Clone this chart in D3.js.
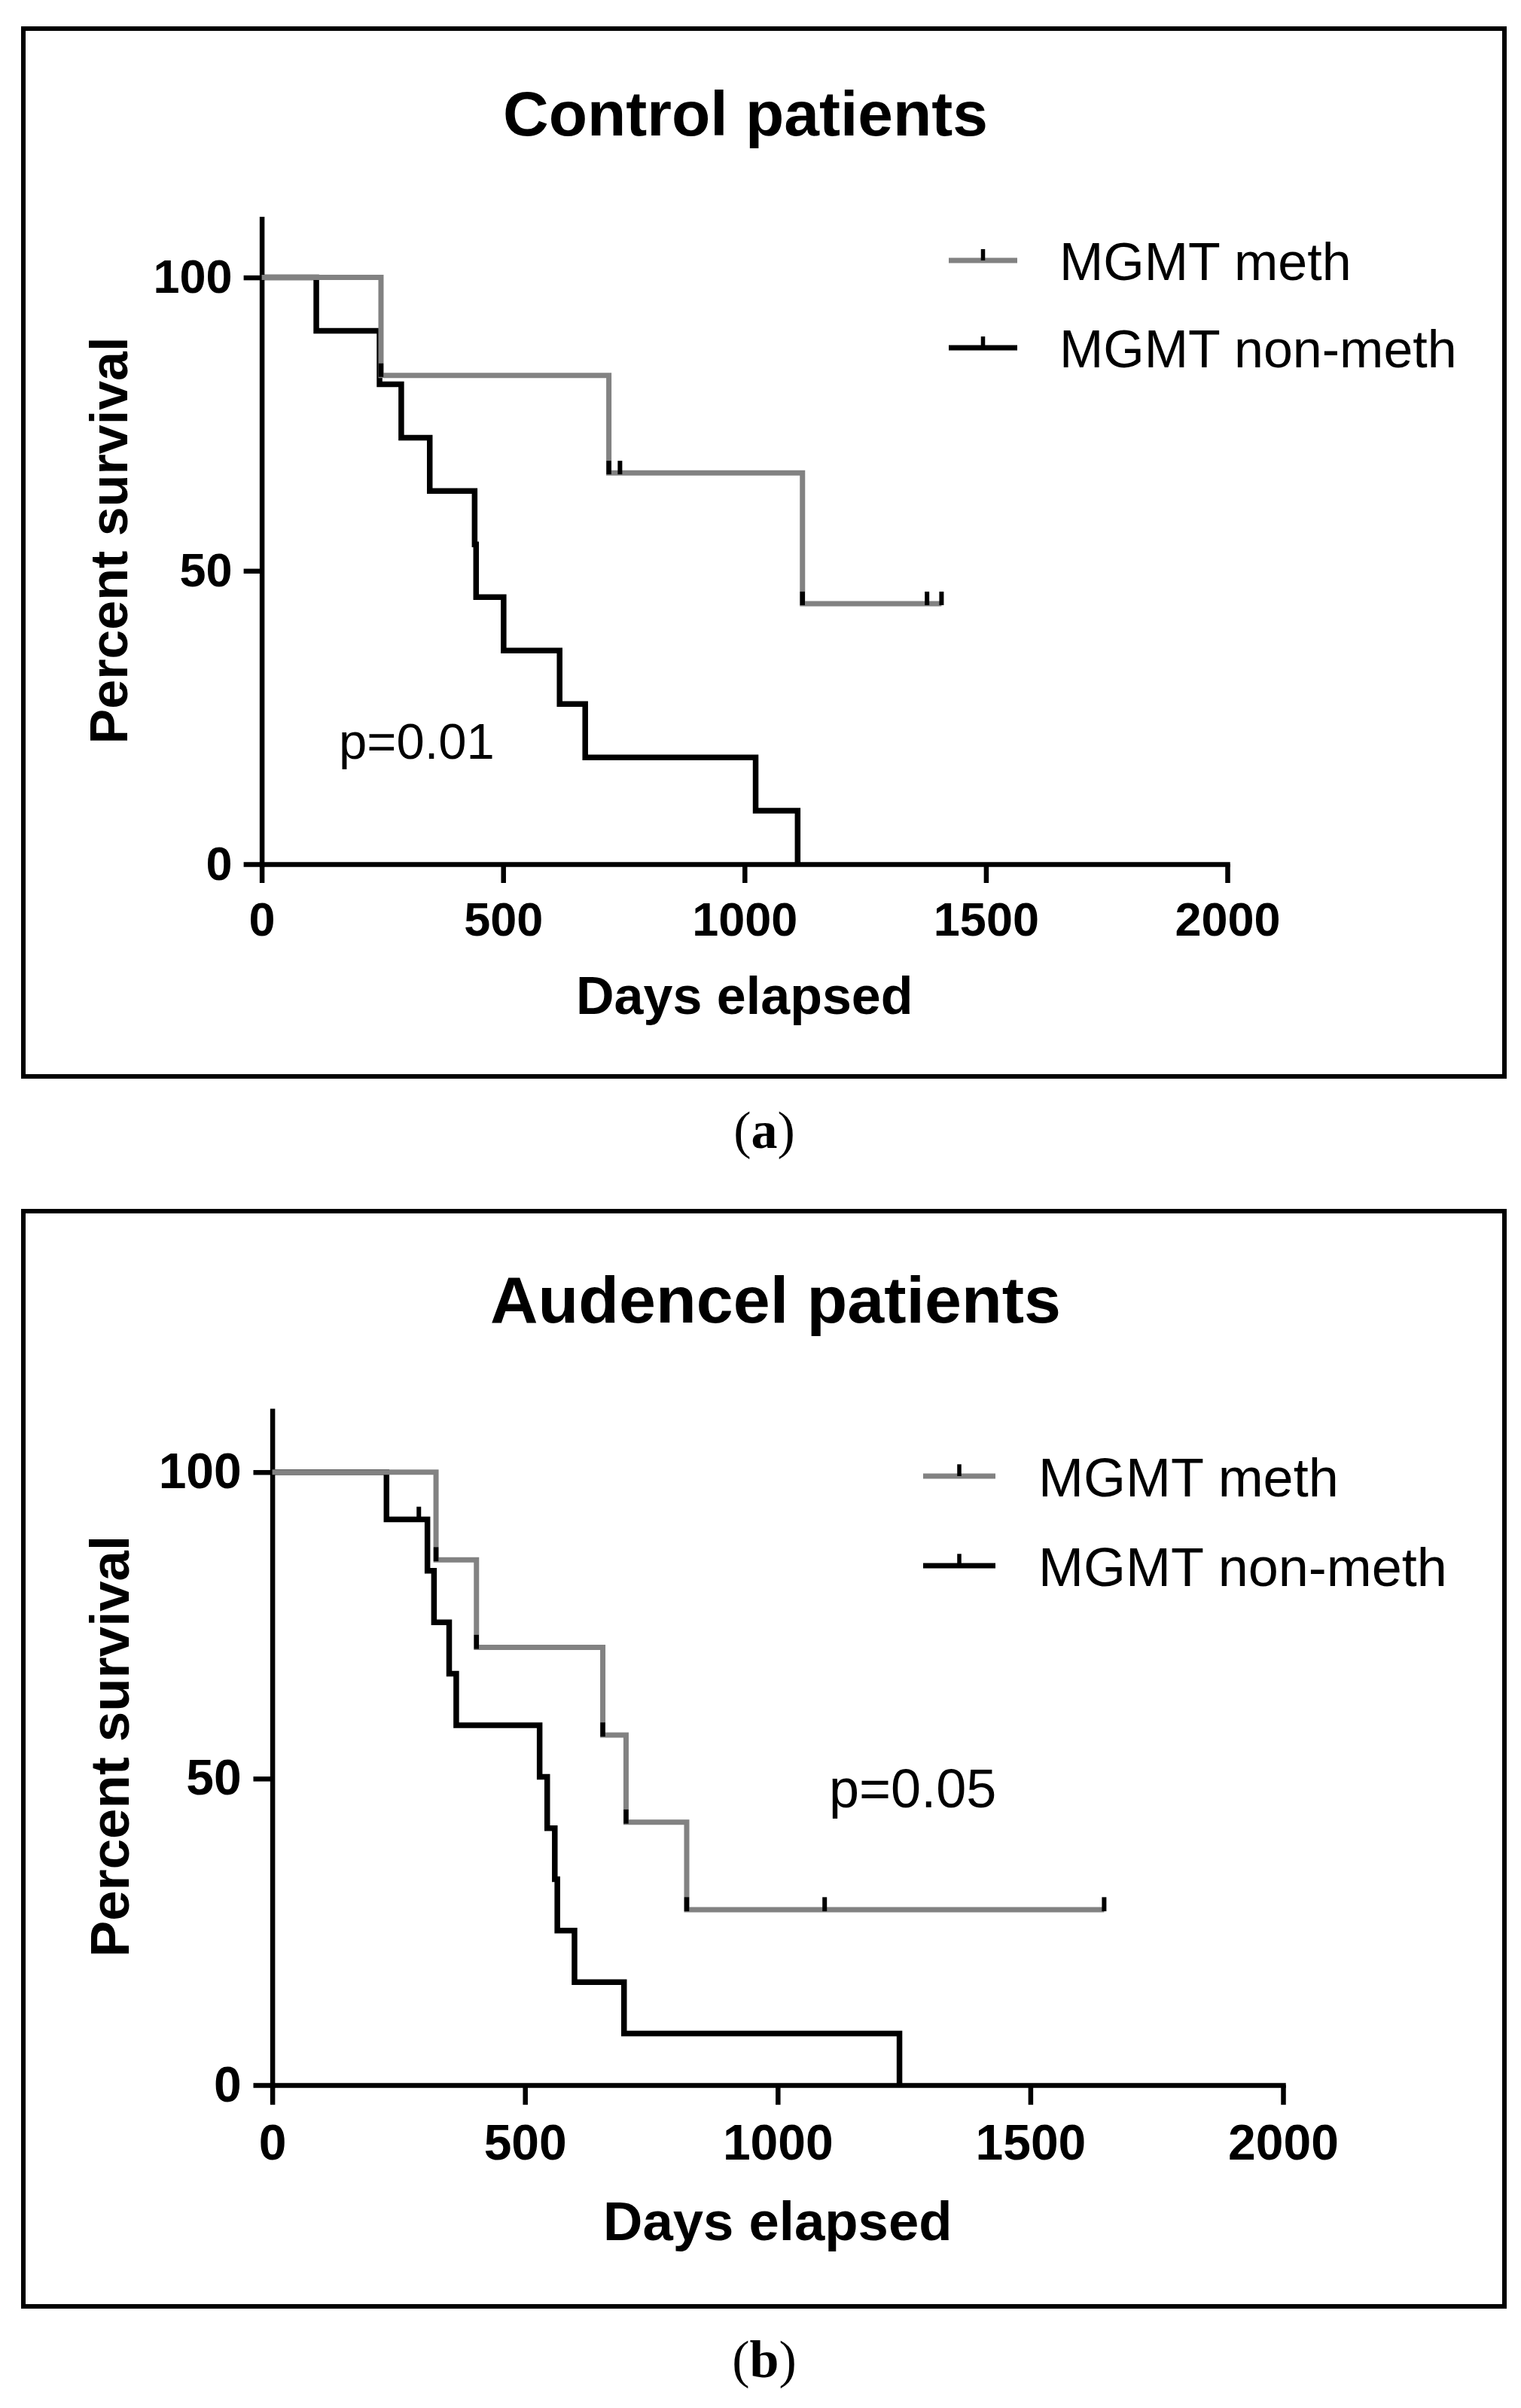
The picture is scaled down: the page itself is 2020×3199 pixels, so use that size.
<!DOCTYPE html>
<html>
<head>
<meta charset="utf-8">
<title>Survival by MGMT status</title>
<script src="https://d3js.org/d3.v7.min.js"></script>
<style>
  body { margin: 0; background: #fff; }
</style>
</head>
<body>
<div id="chart"></div>
<script>
// ---- data ----
// panel (a) control patients
var ctrlMethDays = [247, 719, 1120];
var ctrlMethSurv = [83.3, 66.7, 44.4];
var ctrlMethCensor = [742, 1378, 1408];
var ctrlNonDays = [113, 244, 289, 348, 441, 444, 501, 617, 670, 1023, 1110];
var ctrlNonSurv = [90.9, 81.8, 72.7, 63.6, 54.5, 45.5, 36.4, 27.3, 18.2, 9.1, 0];
var ctrlNonCensor = [];

// panel (b) Audencel patients
var audMethDays = [324, 404, 654, 700, 820];
var audMethSurv = [85.7, 71.4, 57.1, 42.9, 28.6];
var audMethCensor = [1093, 1646];
var audNonDays = [226, 307, 320, 350, 364, 529, 544, 559, 564, 598, 696, 1241];
var audNonSurv = [92.3, 83.9, 75.5, 67.1, 58.7, 50.3, 41.9, 33.6, 25.2, 16.8, 8.4, 0];
var audNonCensor = [290];

var xTicks = [0, 500, 1000, 1500, 2000];
var yTicks = [0, 50, 100];
var seriesNames = ["MGMT meth", "MGMT non-meth"];
var pValues = ["p=0.01", "p=0.05"];

var GRAY = "#828282";
var SANS = "'Liberation Sans', Arial, Helvetica, sans-serif";

var svg = d3.select("#chart")
  .append("svg")
    .attr("width", 2020)
    .attr("height", 3199);

svg.append("rect").attr("width", 2020).attr("height", 3199).attr("fill", "#fff");

// step points for a Kaplan-Meier curve
function kmPoints(days, surv, censor) {
  var pts = [[0, 100]];
  days.forEach(function(d, i) { pts.push([d, surv[i]]); });
  var end = d3.max(censor.concat(days));
  if (end > days[days.length - 1]) pts.push([end, surv[surv.length - 1]]);
  return pts;
}

function survAt(days, surv, t) {
  var s = 100;
  days.forEach(function(d, i) { if (d <= t) s = surv[i]; });
  return s;
}

function drawPanel(p) {
  var k = p.k;

  // frame
  svg.append("rect")
    .attr("x", p.frame[0]).attr("y", p.frame[1])
    .attr("width", p.frame[2] - p.frame[0])
    .attr("height", p.frame[3] - p.frame[1])
    .attr("fill", "none")
    .attr("stroke", "#000")
    .attr("stroke-width", 6);

  // caption (a)/(b)
  var cap = svg.append("text")
    .attr("x", 1015).attr("y", p.capY)
    .attr("text-anchor", "middle")
    .style("font-family", "'Liberation Serif', 'Times New Roman', serif")
    .style("font-size", "70px");
  cap.append("tspan").text("(");
  cap.append("tspan").style("font-weight", "bold").text(p.cap);
  cap.append("tspan").text(")");

  // title
  svg.append("text")
    .attr("x", p.titleX).attr("y", p.titleY)
    .attr("text-anchor", "middle")
    .style("font-family", SANS)
    .style("font-weight", "bold")
    .style("font-size", p.titleSize + "px")
    .text(p.title);

  var x = d3.scaleLinear().domain([0, 2000]).range([p.x0, p.x1]);
  var y = d3.scaleLinear().domain([0, 100]).range([p.y0, p.y100]);

  // axes
  var gx = svg.append("g")
    .attr("transform", "translate(0," + p.y0 + ")")
    .call(d3.axisBottom(x).tickValues(xTicks).tickFormat(d3.format("d"))
      .tickSize(25 * k).tickSizeOuter(0).tickPadding(25 * k));
  var gy = svg.append("g")
    .attr("transform", "translate(" + p.x0 + ",0)")
    .call(d3.axisLeft(y.copy().domain([0, 110]).range([p.y0, p.y0 - 110 * (p.y0 - p.y100) / 100]))
      .tickValues(yTicks).tickFormat(d3.format("d"))
      .tickSize(24 * k).tickSizeOuter(0).tickPadding(15 * k));

  [gx, gy].forEach(function(g) {
    g.attr("font-family", SANS).attr("font-size", p.tickSize).attr("font-weight", "bold");
    g.select(".domain").attr("stroke-width", 6.5).attr("stroke-linecap", "square");
    g.selectAll(".tick line").attr("stroke-width", 6.5);
    g.selectAll(".tick text").attr("fill", "#000");
  });

  // axis titles
  svg.append("text")
    .attr("x", (p.x0 + p.x1) / 2).attr("y", p.xLabelY)
    .attr("text-anchor", "middle")
    .style("font-family", SANS).style("font-weight", "bold")
    .style("font-size", p.labelSize + "px")
    .text("Days elapsed");

  svg.append("text")
    .attr("transform", "translate(" + p.yLabelX + "," + p.yLabelMid + ") rotate(-90)")
    .attr("text-anchor", "middle")
    .style("font-family", SANS).style("font-weight", "bold")
    .style("font-size", p.labelSize + "px")
    .text("Percent survival");

  var line = d3.line()
    .x(function(d) { return x(d[0]); })
    .y(function(d) { return y(d[1]); })
    .curve(d3.curveStepAfter);

  // non-meth (black) under meth (gray)
  var series = [
    {days: p.nonDays, surv: p.nonSurv, censor: p.nonCensor, color: "#000", w: 7.5, marks: false},
    {days: p.methDays, surv: p.methSurv, censor: p.methCensor, color: GRAY, w: 7, marks: true}
  ];

  series.forEach(function(s) {
    svg.append("path")
      .datum(kmPoints(s.days, s.surv, s.censor))
      .attr("fill", "none")
      .attr("stroke", s.color)
      .attr("stroke-width", s.w)
      .attr("stroke-linejoin", "miter")
      .attr("d", line);
  });

  series.forEach(function(s) {
    // dark marks at the foot of each gray drop
    if (s.marks) {
      s.days.forEach(function(d, i) {
        svg.append("line")
          .attr("x1", x(d)).attr("x2", x(d))
          .attr("y1", y(s.surv[i]) + 2).attr("y2", y(s.surv[i]) - 16 * k)
          .attr("stroke", "#000").attr("stroke-width", 6.5);
      });
    }
    // censor ticks
    s.censor.forEach(function(c) {
      var lv = survAt(s.days, s.surv, c);
      svg.append("line")
        .attr("x1", x(c)).attr("x2", x(c))
        .attr("y1", y(lv) + 2).attr("y2", y(lv) - 16 * k)
        .attr("stroke", "#000").attr("stroke-width", 6);
    });
  });

  // legend
  [GRAY, "#000"].forEach(function(col, i) {
    var ly = p.legendY[i];
    svg.append("line")
      .attr("x1", p.legendX).attr("x2", p.legendX + p.legendLen)
      .attr("y1", ly).attr("y2", ly)
      .attr("stroke", col).attr("stroke-width", 7);
    svg.append("line")
      .attr("x1", p.legendX + p.legendLen / 2).attr("x2", p.legendX + p.legendLen / 2)
      .attr("y1", ly).attr("y2", ly - 15 * k)
      .attr("stroke", "#000").attr("stroke-width", 5.5);
    svg.append("text")
      .attr("x", p.legendTextX).attr("y", ly + 26 * k)
      .style("font-family", SANS)
      .style("font-size", p.legendSize + "px")
      .text(seriesNames[i]);
  });

  // p value
  svg.append("text")
    .attr("x", p.pX).attr("y", p.pY)
    .style("font-family", SANS)
    .style("font-size", p.pSize + "px")
    .text(p.pText);
}

drawPanel({
  cap: "a", capY: 1525, title: "Control patients", titleX: 990, titleY: 180, titleSize: 84,
  frame: [31, 38, 1998, 1430],
  x0: 347.6, x1: 1630, y0: 1148, y100: 368.6, k: 1,
  tickSize: 63, labelSize: 70, xLabelY: 1347, yLabelX: 169, yLabelMid: 718,
  legendX: 1260, legendLen: 91, legendTextX: 1407, legendY: [346, 462], legendSize: 70,
  pX: 450, pY: 1008, pSize: 67, pText: pValues[0],
  methDays: ctrlMethDays, methSurv: ctrlMethSurv, methCensor: ctrlMethCensor,
  nonDays: ctrlNonDays, nonSurv: ctrlNonSurv, nonCensor: ctrlNonCensor
});

drawPanel({
  cap: "b", capY: 3158, title: "Audencel patients", titleX: 1030, titleY: 1757, titleSize: 88,
  frame: [31, 1609, 1998, 3064],
  x0: 361.6, x1: 1704, y0: 2770, y100: 1955.7, k: 1.047,
  tickSize: 66, labelSize: 72.5, xLabelY: 2976, yLabelX: 171, yLabelMid: 2320,
  legendX: 1226, legendLen: 96, legendTextX: 1379, legendY: [1961, 2080], legendSize: 72,
  pX: 1101, pY: 2401, pSize: 72, pText: pValues[1],
  methDays: audMethDays, methSurv: audMethSurv, methCensor: audMethCensor,
  nonDays: audNonDays, nonSurv: audNonSurv, nonCensor: audNonCensor
});
</script>
</body>
</html>
